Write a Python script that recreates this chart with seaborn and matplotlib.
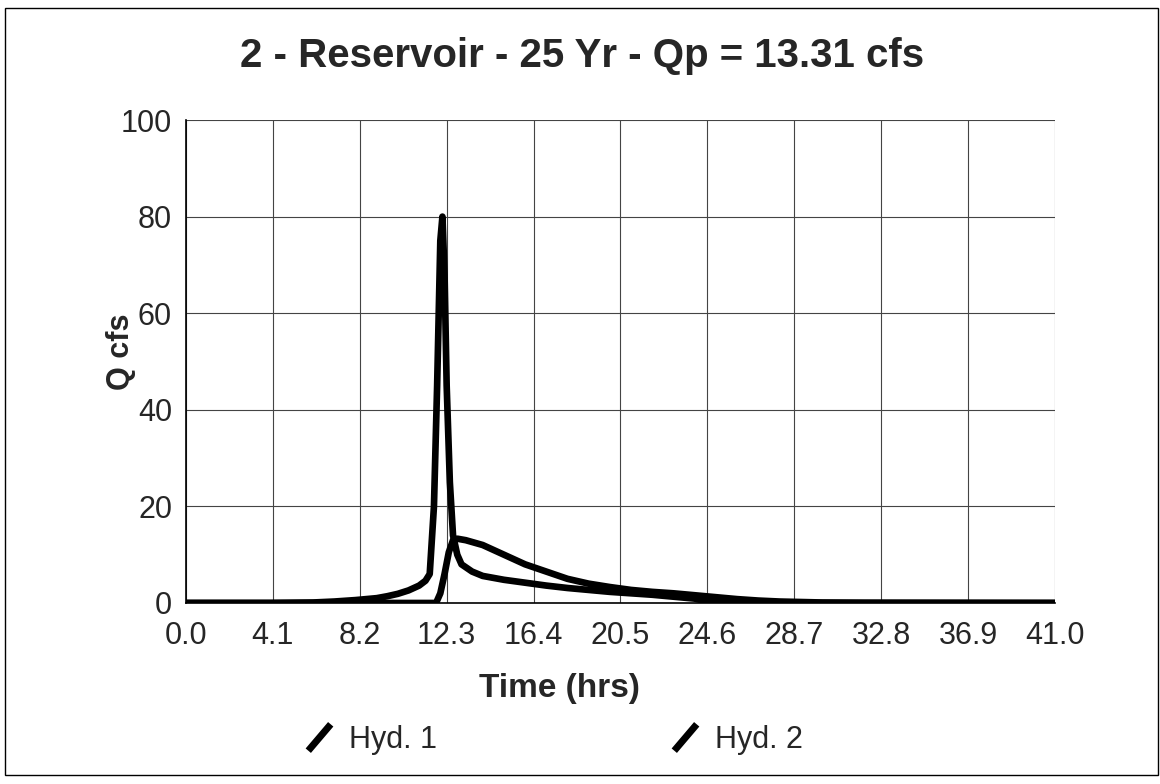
import numpy as np
import pandas as pd
import matplotlib
matplotlib.use("Agg")
import matplotlib.pyplot as plt
import seaborn as sns
from matplotlib.lines import Line2D
from matplotlib.patches import Rectangle

# Hyd. 1 - inflow hydrograph (hrs, cfs)
hyd1_time = [0.0, 4.0, 6.0, 7.0, 8.0, 9.0, 9.5, 10.0, 10.5, 11.0, 11.3, 11.5, 11.7,
             11.85, 12.0, 12.1, 12.2, 12.3, 12.45, 12.6, 12.8, 13.0, 13.5, 14.0, 15.0,
             16.0, 17.0, 18.0, 19.0, 20.0, 21.0, 22.0, 23.0, 24.0, 24.5, 25.0, 26.0,
             30.0, 41.0]
hyd1_q = [0.0, 0.0, 0.1, 0.3, 0.6, 1.0, 1.4, 1.9, 2.6, 3.6, 4.6, 6.0, 20.0,
          45.0, 75.0, 80.0, 68.0, 45.0, 25.0, 14.0, 10.0, 8.0, 6.5, 5.6, 4.8,
          4.2, 3.6, 3.1, 2.7, 2.3, 2.0, 1.7, 1.3, 0.9, 0.4, 0.15, 0.05,
          0.0, 0.0]

# Hyd. 2 - reservoir outflow hydrograph (hrs, cfs)
hyd2_time = [0.0, 11.0, 11.8, 12.0, 12.2, 12.4, 12.6, 12.8, 13.2, 14.0, 15.0, 16.0,
             17.0, 18.0, 19.0, 20.0, 21.0, 22.0, 23.0, 24.0, 25.0, 26.0, 27.0, 28.0,
             29.0, 30.0, 32.0, 41.0]
hyd2_q = [0.0, 0.0, 0.0, 2.0, 6.0, 10.5, 13.0, 13.31, 13.0, 12.0, 10.0, 8.0,
          6.5, 5.0, 4.0, 3.3, 2.7, 2.3, 2.0, 1.6, 1.2, 0.8, 0.5, 0.3,
          0.2, 0.1, 0.05, 0.0]

x_ticks = [0.0, 4.1, 8.2, 12.3, 16.4, 20.5, 24.6, 28.7, 32.8, 36.9, 41.0]
y_ticks = [0, 20, 40, 60, 80, 100]

df = pd.concat([
    pd.DataFrame({"time": hyd1_time, "q": hyd1_q, "hyd": "Hyd. 1"}),
    pd.DataFrame({"time": hyd2_time, "q": hyd2_q, "hyd": "Hyd. 2"}),
])

sns.set_style("white")
plt.rcParams["font.family"] = ["Liberation Sans", "DejaVu Sans"]

fig = plt.figure(figsize=(11.6, 7.84), dpi=100)
ax = fig.add_axes([0.1603, 0.2309, 0.7492, 0.616])

sns.lineplot(data=df, x="time", y="q", hue="hyd", palette=["black", "black"],
             estimator=None, sort=False, linewidth=4.8, legend=False, ax=ax)

ax.set_xlim(0, 41.0)
ax.set_ylim(0, 100)
ax.set_xticks(x_ticks)
ax.set_xticklabels([f"{v:.1f}" for v in x_ticks])
ax.set_yticks(y_ticks)
ax.grid(True, color="#444444", linewidth=0.8)
for side in ["top", "right"]:
    ax.spines[side].set_visible(False)
for side in ["left", "bottom"]:
    ax.spines[side].set_color("black")
    ax.spines[side].set_linewidth(1.2)
ax.tick_params(axis="both", labelsize=22, width=1, color="black", direction="out")
ax.tick_params(axis="x", length=7, pad=6)
ax.tick_params(axis="y", length=9, pad=1)

ax.set_xlabel("Time (hrs)", fontsize=24, fontweight="bold")
ax.xaxis.set_label_coords(0.43, -0.145)
ax.set_ylabel("Q cfs", fontsize=22, fontweight="bold")
ax.yaxis.set_label_coords(-0.058, 0.52)

fig.text(0.502, 1 - 67 / 784, "2 - Reservoir - 25 Yr - Qp = 13.31 cfs",
         fontsize=29, fontweight="bold", ha="center", va="baseline")

# legend with slash markers
slash = [(-0.85, -1.0), (0.85, 1.0)]
handles = [Line2D([], [], color="black", marker=slash, markersize=19,
                  markeredgewidth=5, linestyle="None", label=lab)
           for lab in ["Hyd. 1", "Hyd. 2"]]
fig.legend(handles=handles, loc="center", bbox_to_anchor=(0.477, 0.056), ncol=2,
           frameon=False, fontsize=22, columnspacing=7.6, handlelength=1.0,
           handletextpad=0.5)

# outer border
fig.patches.append(Rectangle((0.004, 0.011), 0.994, 0.979, transform=fig.transFigure,
                             fill=False, edgecolor="black", linewidth=1))

plt.savefig("out.png", dpi=100)
plt.close()
